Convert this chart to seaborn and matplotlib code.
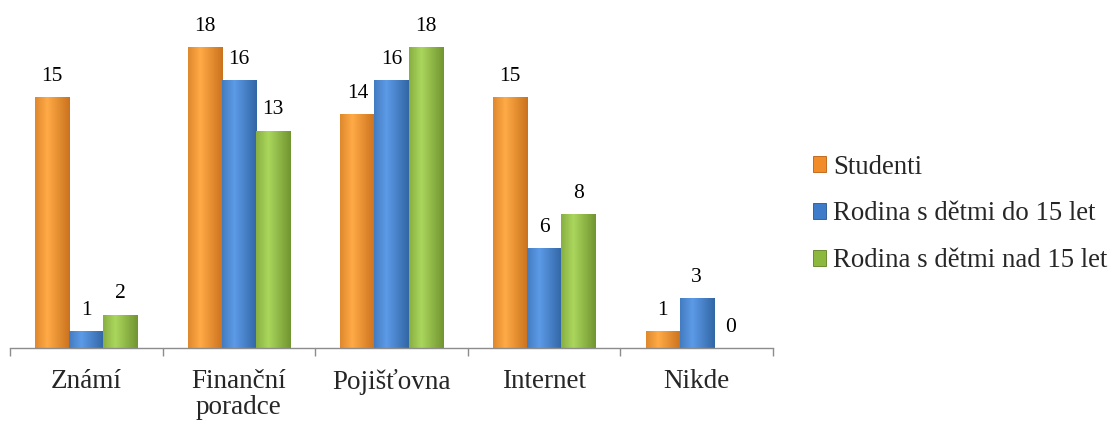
import numpy as np
import pandas as pd
import matplotlib
matplotlib.use("Agg")
import matplotlib.pyplot as plt
import matplotlib.colors as mcolors
from matplotlib.patches import Patch
import seaborn as sns

categories = ["Známí", "Finanční\nporadce", "Pojišťovna", "Internet", "Nikde"]
series = ["Studenti", "Rodina s dětmi do 15 let", "Rodina s dětmi nad 15 let"]
studenti = [15, 18, 14, 15, 1]
rodina_do15 = [1, 16, 16, 6, 3]
rodina_nad15 = [2, 13, 18, 8, 0]
colors = ["#F28C28", "#3E7CC9", "#8CB83E"]
edge_colors = ["#B85F10", "#24558F", "#5E7F22"]

df = pd.DataFrame({
    "kategorie": categories * 3,
    "serie": [series[0]] * 5 + [series[1]] * 5 + [series[2]] * 5,
    "hodnota": studenti + rodina_do15 + rodina_nad15,
})

sns.set_theme(style="white")
plt.rcParams["font.family"] = ["Liberation Serif", "DejaVu Serif"]

fig = plt.figure(figsize=(11.09, 4.21), dpi=100)
ax = fig.add_axes([10 / 1109, 1 - 348 / 421, 763 / 1109, 301 / 421])

sns.barplot(data=df, x="kategorie", y="hodnota", hue="serie", order=categories,
            hue_order=series, palette=colors, width=0.67, saturation=1,
            legend=False, ax=ax, errorbar=None)

# gradient shading on bars
for i, cont in enumerate(ax.containers):
    base = np.array(mcolors.to_rgb(colors[i]))
    dark = np.array(mcolors.to_rgb(edge_colors[i]))
    t = np.linspace(0, 1, 64)
    prof = np.where(t < 0.35, 0.55 + t / 0.35 * 0.45, 1 - (t - 0.35) / 0.65 * 0.75)
    light = np.clip(base + 0.12, 0, 1)
    grad = np.array([dark + (light - dark) * p for p in prof])[None, :, :]
    for bar in cont:
        bar.set_edgecolor(edge_colors[i])
        bar.set_linewidth(0.6)
        x0, y0 = bar.get_x(), bar.get_y()
        w, h = bar.get_width(), bar.get_height()
        if h <= 0:
            continue
        im = ax.imshow(grad, extent=[x0, x0 + w, y0, y0 + h], aspect="auto",
                       zorder=bar.get_zorder() + 0.1, interpolation="bilinear")
        im.set_clip_path(bar)
    ax.bar_label(cont, labels=[str(int(v.get_height())) for v in cont],
                 padding=8, fontsize=15.5, color="black")

ax.set_xlim(-0.5, 4.5)
ax.set_ylim(0, 18)
ax.set_xlabel("")
ax.set_ylabel("")
ax.set_yticks([])
for s in ["left", "right", "top"]:
    ax.spines[s].set_visible(False)
ax.spines["bottom"].set_color("#8C8C8C")
ax.spines["bottom"].set_linewidth(1.0)
ax.set_xticks(np.arange(-0.5, 5.0, 1.0), minor=True)
ax.tick_params(axis="x", which="minor", length=6, width=1.0, color="#8C8C8C", bottom=True)
ax.tick_params(axis="x", which="major", length=0, pad=15, labelsize=19.5)
for lbl in ax.get_xticklabels():
    lbl.set_linespacing(1.05)

handles = [Patch(facecolor=colors[i], edgecolor=edge_colors[i], linewidth=0.6) for i in range(3)]
fig.legend(handles, series, loc="center left", bbox_to_anchor=(813 / 1109, 1 - 214 / 421),
           frameon=False, fontsize=19.3, handlelength=0.5, handleheight=0.5,
           handletextpad=0.25, labelspacing=0.82, borderpad=0, borderaxespad=0)

fig.savefig("out.png", dpi=100)
